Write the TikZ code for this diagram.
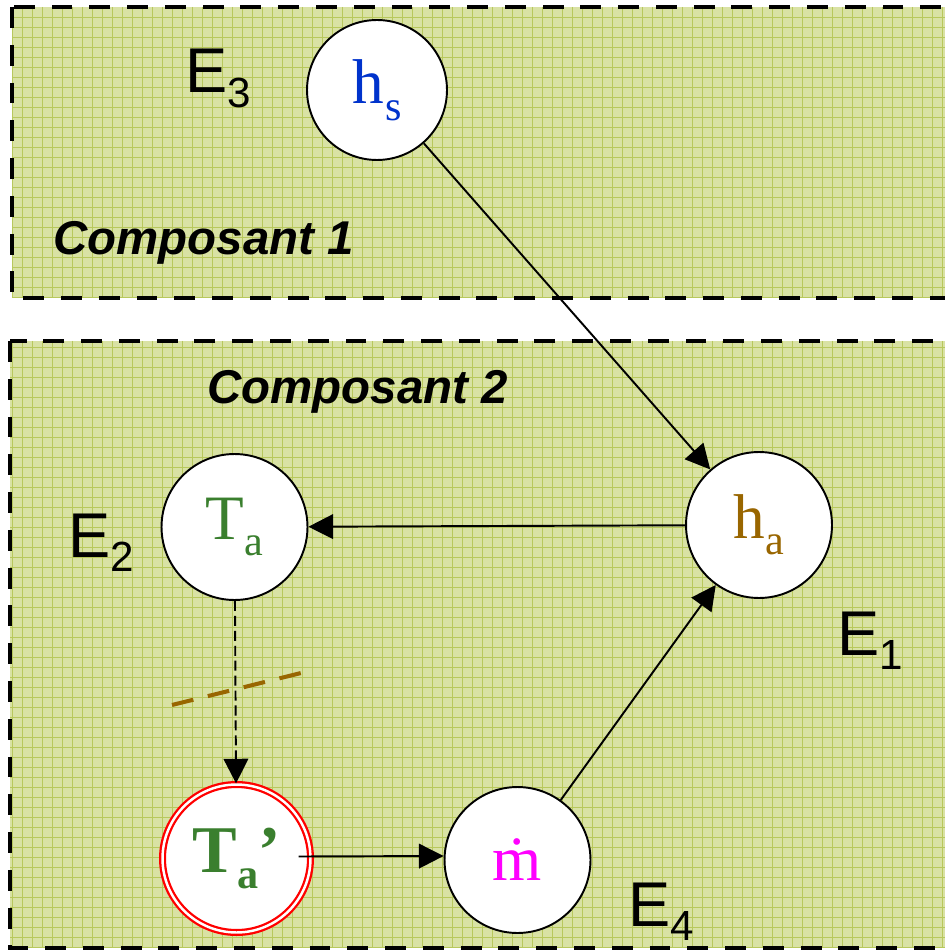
\documentclass[tikz,border=0pt]{standalone}
\usepackage{fontspec}
\setmainfont{Liberation Serif}
\setsansfont{Liberation Sans}
\usetikzlibrary{arrows.meta,calc}
\definecolor{bgfill}{RGB}{217,226,164}
\definecolor{gridc}{RGB}{184,200,92}
\definecolor{hsblue}{RGB}{0,51,204}
\definecolor{tagreen}{RGB}{58,127,46}
\definecolor{habrown}{RGB}{153,102,0}
\definecolor{mmag}{RGB}{255,0,255}
\newcommand\nsub[2]{\raisebox{#1}{\fontsize{24}{24}\selectfont #2}}
\newcommand\esub[1]{\raisebox{-8.5pt}{\fontsize{24}{24}\selectfont #1}}
\tikzset{
  boxborder/.style={line width=2.8pt, dash pattern=on 11.9pt off 9.6pt},
  var/.style={circle, draw=black, line width=1.1pt, fill=white, minimum size=2.92cm, inner sep=0pt,
    font=\fontsize{36}{40}\selectfont},
  elabel/.style={anchor=base west, inner sep=0pt, font=\sffamily\fontsize{36}{40}\selectfont},
  comp/.style={anchor=base west, inner sep=0pt, font=\sffamily\bfseries\itshape\fontsize{27}{30}\selectfont},
  link/.style={line width=1.1pt, -{Triangle[length=14pt,width=14pt]}},
}
\begin{document}
\begin{tikzpicture}[x=0.02cm,y=-0.02cm]
\useasboundingbox (0,0) rectangle (945,952);
\fill[white] (0,0) rectangle (945,952);
% box 1 background
\fill[bgfill] (12,7) rectangle (960,298);
\begin{scope}
  \clip (12,7) rectangle (960,298);
  \foreach \gx in {12,22,...,952} \draw[gridc, line width=0.55pt] (\gx,7) -- (\gx,298);
  \foreach \gy in {17,27,...,297} \draw[gridc, line width=0.55pt] (12,\gy) -- (960,\gy);
\end{scope}
\draw[boxborder] (12,7) rectangle (960,298);
% box 2 background
\fill[bgfill] (10,341) rectangle (960,948);
\begin{scope}
  \clip (10,341) rectangle (960,948);
  \foreach \gx in {12,22,...,952} \draw[gridc, line width=0.55pt] (\gx,341) -- (\gx,948);
  \foreach \gy in {347,357,...,947} \draw[gridc, line width=0.55pt] (10,\gy) -- (960,\gy);
\end{scope}
\draw[boxborder] (10,341) rectangle (960,948);

% labels
\node[comp] (c1) at (53,255) {Composant 1};
\node[comp] (c2) at (207,403) {Composant 2};
\node[elabel] (E3) at (185,93) {E\esub{3}};
\node[elabel] (E2) at (68,557) {E\esub{2}};
\node[elabel] (E1) at (837,655) {E\esub{1}};
\node[elabel] (E4) at (628,926) {E\esub{4}};

% variables
\node[var, minimum size=2.8cm] (hs) at (377,90) {\textcolor{hsblue}{h\kern1pt\nsub{-9.5pt}{s}}};
\node[var] (ha) at (759,525) {\textcolor{habrown}{h\nsub{-9pt}{a}}};
\node[var] (Ta) at (234.5,527) {\textcolor{tagreen}{T\nsub{-9pt}{a}}};
\node[var, draw=red, double=white, line width=1.3pt, double distance=1.4pt, minimum size=2.96cm]
  (Tap) at (236.5,858.5) {\textcolor{tagreen}{\fontsize{38}{40}\selectfont\bfseries T\raisebox{-9pt}{\fontsize{24}{24}\selectfont a}’}};
\node[var] (m) at (517.5,860) {\textcolor{mmag}{\.m}};

% connectors
\draw[link] (hs) -- (ha);
\draw[link] (ha) -- (Ta);
\draw[link, dashed, dash pattern=on 5.7pt off 2.8pt] (Ta) -- (Tap);
\draw[link] ($(Tap.east)+(-13,-2)$) -- (m.west |- 0,856);
\draw[link] (m) -- (ha);

% brown dashed cut mark
\draw[habrown, line width=2.3pt, dash pattern=on 12.5pt off 8.5pt] (172,705) -- (301,673);
\end{tikzpicture}
\end{document}
